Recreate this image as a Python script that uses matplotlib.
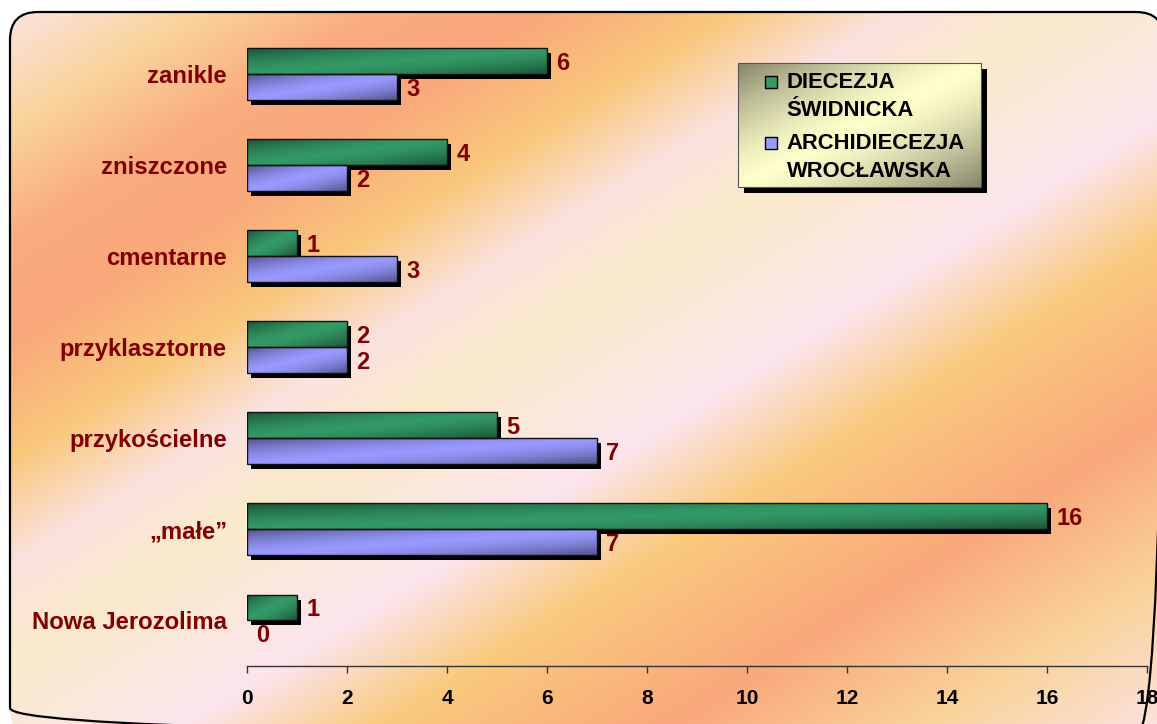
import numpy as np
import matplotlib
matplotlib.use("Agg")
import matplotlib.pyplot as plt
from matplotlib.patches import FancyBboxPatch, Rectangle
from matplotlib.transforms import offset_copy, Affine2D
from matplotlib.colors import to_rgb

# ---- data -------------------------------------------------------------
categories = ["zanikle", "zniszczone", "cmentarne", "przyklasztorne",
              "przykościelne", "„małe”", "Nowa Jerozolima"]
swidnica = [6, 4, 1, 2, 5, 16, 1]
wroclaw = [3, 2, 3, 2, 7, 7, 0]
series_names = ["DIECEZJA ŚWIDNICKA", "ARCHIDIECEZJA WROCŁAWSKA"]
x_ticks = [0, 2, 4, 6, 8, 10, 12, 14, 16, 18]

# ---- style --------------------------------------------------------------
plt.rcParams["font.family"] = ["Liberation Sans", "DejaVu Sans"]
W, H, DPI = 1157, 724, 100
DARK_RED = "#800000"
GREEN = "#339966"
BLUE = "#9999FF"
LEGEND_FILL = "#FFFFCC"


def diagonal_shade(base, nx=120, ny=30, depth=0.45, power=1.5):
    """Diagonal two-sided shading: dark at top-left and bottom-right corners."""
    u = np.linspace(0, 1, nx)[None, :]
    v = np.linspace(0, 1, ny)[:, None]
    t = (u + v) / 2.0
    k = 1.0 - depth * np.abs(2 * t - 1) ** power
    return np.clip(k[..., None] * np.array(to_rgb(base)), 0, 1)


fig = plt.figure(figsize=(W / DPI, H / DPI), dpi=DPI)
fig.patch.set_facecolor("white")

# pixel coordinates, origin top-left, y pointing down
pix = Affine2D().scale(1.0 / W, -1.0 / H).translate(0, 1) + fig.transFigure

# ---- background panel with diagonal multi-stop gradient ----------------
stops = [
    (0.00, "#FCE3E2"), (0.16, "#F9D49C"), (0.32, "#F9AC7E"),
    (0.46, "#F9A87B"), (0.62, "#F9C77B"), (0.77, "#FBE2E0"),
    (0.90, "#FAEACA"), (1.02, "#FBE8DC"), (1.14, "#FCE5EE"),
    (1.31, "#F9CA7E"), (1.56, "#F9A87B"), (1.78, "#F9D39A"),
    (2.00, "#FCE3E3"),
]
yy, xx = np.mgrid[0:H, 0:W] + 0.5
tt = (xx - 10) / 1158.0 + (yy - 12) / 720.0
pos = [s[0] for s in stops]
cols = np.array([to_rgb(s[1]) for s in stops])
grad = np.stack([np.interp(tt, pos, cols[:, c]) for c in range(3)], axis=-1)

frame = FancyBboxPatch((10, 12), 1154, 724,
                       boxstyle="round,pad=0,rounding_size=28",
                       facecolor="none", edgecolor="black", linewidth=1.6,
                       transform=pix, zorder=-1)
fig.add_artist(frame)
bgimg = fig.figimage(grad, xo=0, yo=0, origin="upper", zorder=-2)
bgimg.set_clip_path(frame)

# ---- main bar chart -----------------------------------------------------
ax = fig.add_axes([247.3 / W, 1 - 666 / H, 900 / W, (666 - 28.5) / H])
ax.patch.set_alpha(0)

n = len(categories)
ypos = np.arange(n)[::-1].astype(float)
bar_h = 0.285

shadow_tr = offset_copy(ax.transData, fig=fig, x=4, y=-5, units="dots")
label_tr = offset_copy(ax.transData, fig=fig, x=9, y=-8.5, units="dots")

for vals, shift, color in ((swidnica, bar_h / 2, GREEN),
                           (wroclaw, -bar_h / 2, BLUE)):
    yc = ypos + shift
    ax.barh(yc, vals, height=bar_h, color="black", linewidth=0,
            transform=shadow_tr, zorder=2)
    bars = ax.barh(yc, vals, height=bar_h, color=color,
                   edgecolor="#111111", linewidth=1.0, zorder=3)
    for patch, v, y in zip(bars.patches, vals, yc):
        if v == 0:
            patch.set_visible(False)
        else:
            x0, y0 = patch.get_x(), patch.get_y()
            w, h = patch.get_width(), patch.get_height()
            img = ax.imshow(diagonal_shade(color), origin="upper",
                            extent=(x0, x0 + w, y0, y0 + h),
                            aspect="auto", interpolation="bilinear",
                            zorder=3.2)
            img.set_clip_path(patch)
            patch.set_facecolor("none")
            patch.set_zorder(3.4)
        ax.text(v, y, str(v), transform=label_tr, ha="left", va="baseline",
                color=DARK_RED, fontsize=17, fontweight="bold", zorder=5)

ax.set_xlim(0, 18)
ax.set_ylim(-0.5, n - 0.5)
ax.set_xticks(x_ticks)
ax.set_xticklabels([str(t) for t in x_ticks], fontsize=15,
                   fontweight="bold", color="black")
ax.set_yticks(ypos)
ax.set_yticklabels(categories, fontsize=17.2, fontweight="bold",
                   color=DARK_RED)
for side in ("left", "right", "top"):
    ax.spines[side].set_visible(False)
ax.spines["bottom"].set_color("#333333")
ax.spines["bottom"].set_linewidth(1.0)
ax.tick_params(axis="x", direction="out", length=5, width=1,
               color="#333333", pad=11.5)
ax.tick_params(axis="y", length=0, pad=14.6)

# ---- legend -------------------------------------------------------------
lg = fig.add_axes([0, 0, 1, 1])
lg.axis("off")
lg.patch.set_alpha(0)

lx0, ly0, lx1, ly1 = 738, 63, 981, 187
lg.add_patch(Rectangle((lx0 + 5.5, ly0 + 5.5), lx1 - lx0, ly1 - ly0,
                       facecolor="black", edgecolor="none", zorder=1))
box = Rectangle((lx0, ly0), lx1 - lx0, ly1 - ly0, facecolor="none",
                edgecolor="#555555", linewidth=0.8, zorder=3)
lg.add_patch(box)
lim = lg.imshow(diagonal_shade(LEGEND_FILL, nx=200, ny=100, depth=0.48,
                               power=1.4),
                extent=(lx0, lx1, ly1, ly0), origin="upper",
                aspect="auto", interpolation="bilinear", zorder=2)
lim.set_clip_path(box)
lg.set_xlim(0, W)
lg.set_ylim(H, 0)

entry_baselines = [88.3, 149.3]
line_step = 27.5
for name, color, base in zip(series_names, (GREEN, BLUE), entry_baselines):
    lg.add_patch(Rectangle((764.5, base - 12), 12.5, 12, facecolor=color,
                           edgecolor="black", linewidth=1.0, zorder=4))
    for k, word in enumerate(name.split(" ")):
        lg.text(786.7, base + k * line_step, word, ha="left", va="baseline",
                fontsize=15.8, fontweight="bold", color="black", zorder=5)

fig.savefig("out.png", dpi=DPI, facecolor="white")
